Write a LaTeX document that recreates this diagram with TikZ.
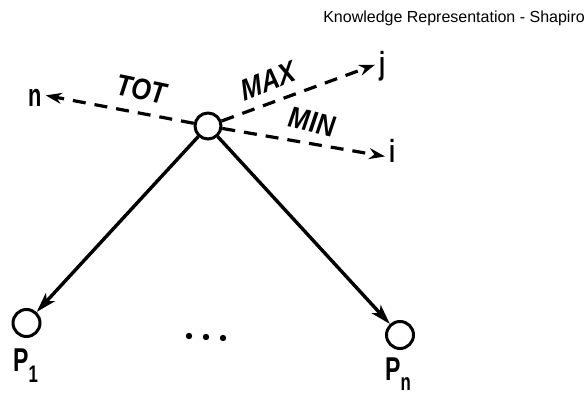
\documentclass[tikz,border=0pt]{standalone}
\usepackage{fontspec}
\setmainfont{Liberation Sans}
\usetikzlibrary{arrows.meta}
\begin{document}
\begin{tikzpicture}[x=1pt,y=1pt,
  nodecirc/.style={circle,draw,line width=3pt,minimum size=26pt,inner sep=0pt},
  leaf/.style={circle,draw,line width=3pt,minimum size=27pt,inner sep=0pt},
  dasharc/.style={line width=3.2pt,dash pattern=on 13pt off 9pt,-{Stealth[length=16pt,width=11pt]}},
  solidarc/.style={line width=3.4pt,-{Stealth[length=20pt,width=12pt,inset=5pt]}},
  arclabel/.style={font=\fontsize{30}{30}\selectfont\bfseries\itshape,inner sep=0pt,xscale=0.84},
  endlabel/.style={font=\fontsize{32}{32}\selectfont\bfseries,inner ysep=0pt,inner xsep=6pt,xscale=0.68},
  plabel/.style={font=\fontsize{33}{33}\selectfont\bfseries,inner sep=0pt,xscale=0.7}]
\useasboundingbox (0,0) rectangle (587,396);
\node[font=\fontsize{16}{16}\selectfont,anchor=base east,inner sep=0pt] (hdr) at (585,373) {Knowledge Representation - Shapiro};
\node[nodecirc] (c) at (208,270) {};
\node[endlabel,anchor=base west] (n) at (24,289) {n};
\node[endlabel,anchor=base west] (j) at (375,321) {j};
\node[endlabel,anchor=base west] (i) at (385,233) {i};
\node[leaf] (p1) at (26.5,73) {};
\node[leaf] (pn) at (400,61) {};
\node[plabel,anchor=base west] (p1l) at (13,24) {P\raisebox{-11pt}{\fontsize{24}{24}\selectfont 1}};
\node[plabel,anchor=base west] (pnl) at (385,15) {P\raisebox{-10pt}{\fontsize{24}{24}\selectfont n}};
\fill (189,60) circle (3.2pt) (206,59) circle (3.2pt) (223,58) circle (3.2pt);
\draw[dasharc] (c) -- ([yshift=3pt]n.east);
\draw[dasharc] (c) -- ([yshift=2pt]j.west);
\draw[dasharc] (c) -- ([yshift=-5pt]i.west);
\draw[solidarc] (c) -- (p1);
\draw[solidarc] (c) -- (pn);
\node[arclabel,rotate=-10] (tot) at (142,307) {TOT};
\node[arclabel,rotate=19] (max) at (268,315) {MAX};
\node[arclabel,rotate=-11] (min) at (312,274) {MIN};
\end{tikzpicture}
\end{document}
